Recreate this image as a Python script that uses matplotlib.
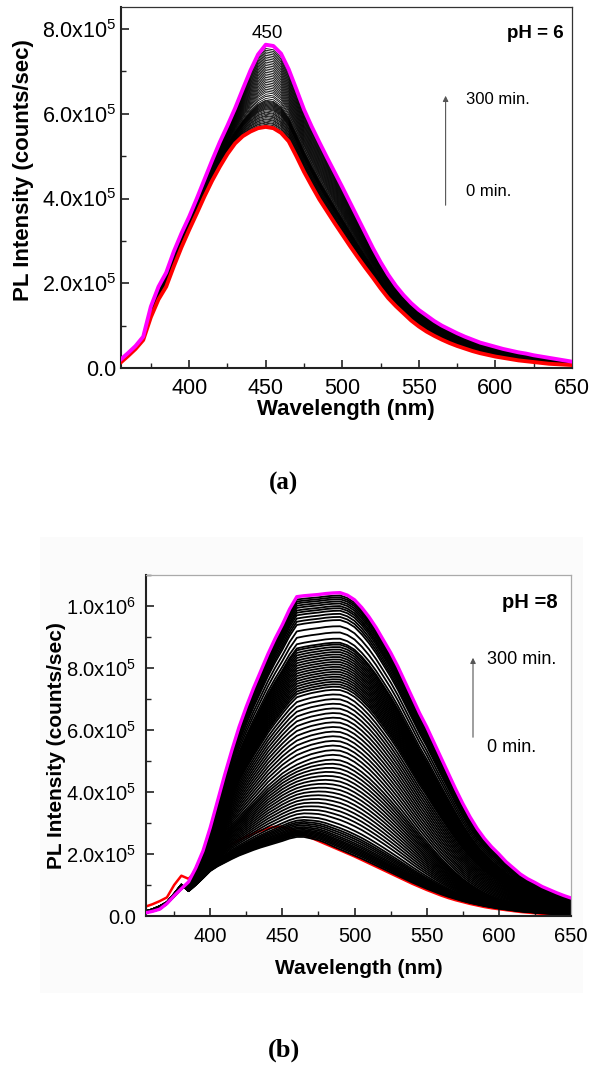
import numpy as np
import matplotlib
matplotlib.use('Agg')
import matplotlib.pyplot as plt
from matplotlib.ticker import MultipleLocator, FuncFormatter
from matplotlib.patches import Rectangle, FancyArrowPatch

plt.rcParams['font.family'] = ['Liberation Sans', 'DejaVu Sans']
plt.rcParams['mathtext.fontset'] = 'custom'
plt.rcParams['mathtext.rm'] = 'Liberation Sans'

# wavelength grid of the spectra (nm)
wl = np.arange(355, 651, 5)

# ---- panel (a), pH = 6, intensities in units of 1e5 counts/sec ----
red_a = [0.12, 0.28, 0.45, 0.66, 1.20, 1.62, 1.92, 2.40, 2.85, 3.26,
         3.65, 4.05, 4.42, 4.75, 5.05, 5.30, 5.47, 5.58, 5.66, 5.69,
         5.66, 5.55, 5.35, 5.00, 4.63, 4.30, 3.98, 3.70, 3.42, 3.15,
         2.88, 2.62, 2.37, 2.13, 1.88, 1.65, 1.46, 1.29, 1.12, 0.98,
         0.86, 0.76, 0.67, 0.59, 0.52, 0.46, 0.40, 0.35, 0.31, 0.27,
         0.24, 0.21, 0.18, 0.16, 0.14, 0.12, 0.10, 0.09, 0.08, 0.07]
magenta_a = [0.19, 0.35, 0.52, 0.74, 1.45, 1.92, 2.25, 2.75, 3.18, 3.57,
             4.00, 4.45, 4.90, 5.33, 5.72, 6.13, 6.58, 7.02, 7.40, 7.63,
             7.60, 7.42, 7.05, 6.58, 6.10, 5.70, 5.33, 4.97, 4.62, 4.27,
             3.91, 3.55, 3.19, 2.83, 2.50, 2.20, 1.94, 1.72, 1.53, 1.37,
             1.24, 1.11, 1.00, 0.91, 0.82, 0.74, 0.67, 0.60, 0.55, 0.50,
             0.45, 0.41, 0.37, 0.34, 0.30, 0.27, 0.24, 0.21, 0.18, 0.15]
# peak heights of the intermediate (black) spectra
peaks_a = [5.72, 5.75, 5.78, 5.80, 5.83, 5.86, 5.88, 5.91, 5.94, 5.96,
           5.99, 6.02, 6.04, 6.07, 6.10, 6.12, 6.14, 6.16, 6.18, 6.20,
           6.22, 6.24, 6.26, 6.28, 6.30, 6.32, 6.36, 6.41, 6.45, 6.50,
           6.54, 6.58, 6.62, 6.66, 6.70, 6.74, 6.78, 6.82, 6.86, 6.90,
           6.94, 6.98, 7.02, 7.06, 7.10, 7.14, 7.18, 7.22, 7.26, 7.30,
           7.34, 7.38, 7.42, 7.46, 7.50, 7.54]

# ---- panel (b), pH = 8 ----
red_b = [0.30, 0.38, 0.48, 0.60, 1.00, 1.30, 1.20, 1.45, 1.65, 1.85,
         2.02, 2.18, 2.32, 2.45, 2.56, 2.66, 2.75, 2.83, 2.88, 2.88,
         2.80, 2.72, 2.62, 2.52, 2.42, 2.32, 2.22, 2.12, 2.02, 1.92,
         1.81, 1.70, 1.59, 1.48, 1.37, 1.26, 1.15, 1.04, 0.94, 0.84,
         0.75, 0.66, 0.58, 0.51, 0.45, 0.39, 0.34, 0.29, 0.25, 0.22,
         0.19, 0.16, 0.13, 0.11, 0.09, 0.07, 0.06, 0.05, 0.04, 0.03]
low_b = [0.15, 0.22, 0.32, 0.45, 0.72, 1.02, 0.80, 1.00, 1.22, 1.45,
         1.60, 1.72, 1.84, 1.95, 2.04, 2.13, 2.21, 2.28, 2.35, 2.42,
         2.50, 2.55, 2.55, 2.50, 2.45, 2.36, 2.25, 2.15, 2.05, 1.95,
         1.85, 1.74, 1.63, 1.52, 1.41, 1.30, 1.19, 1.08, 0.98, 0.88,
         0.79, 0.70, 0.62, 0.55, 0.48, 0.42, 0.37, 0.32, 0.28, 0.24,
         0.21, 0.18, 0.15, 0.13, 0.11, 0.09, 0.08, 0.07, 0.06, 0.05]
mid_b = [0.12, 0.18, 0.27, 0.40, 0.65, 0.90, 0.90, 1.20, 1.55, 1.95,
         2.30, 2.65, 2.95, 3.20, 3.45, 3.70, 3.95, 4.20, 4.40, 4.60,
         4.75, 4.88, 4.98, 5.07, 5.13, 5.18, 5.20, 5.18, 5.10, 4.97,
         4.80, 4.60, 4.37, 4.12, 3.85, 3.57, 3.28, 2.98, 2.68, 2.40,
         2.12, 1.86, 1.62, 1.40, 1.20, 1.03, 0.88, 0.75, 0.64, 0.55,
         0.47, 0.40, 0.34, 0.29, 0.25, 0.21, 0.18, 0.15, 0.13, 0.11]
magenta_b = [0.10, 0.15, 0.22, 0.40, 0.65, 0.88, 1.10, 1.55, 2.10, 2.85,
             3.70, 4.55, 5.35, 6.10, 6.75, 7.35, 7.90, 8.45, 8.95, 9.40,
             9.90, 10.30, 10.33, 10.35, 10.37, 10.40, 10.42, 10.43, 10.35, 10.20,
             9.95, 9.65, 9.30, 8.90, 8.50, 8.05, 7.55, 7.05, 6.55, 6.10,
             5.60, 5.10, 4.60, 4.10, 3.63, 3.20, 2.82, 2.50, 2.23, 2.00,
             1.75, 1.55, 1.35, 1.20, 1.08, 0.95, 0.85, 0.75, 0.66, 0.58]
peaks_b = [2.55, 2.60, 2.64, 2.68, 2.72, 2.76, 2.80, 2.85, 2.90, 2.96,
           3.02, 3.08, 3.15, 3.25, 3.38, 3.50, 3.62, 3.74, 3.86, 3.98,
           4.10, 4.22, 4.34, 4.46, 4.58, 4.70, 4.82, 4.94, 5.06, 5.20,
           5.35, 5.50, 5.65, 5.80, 5.95, 6.10, 6.25, 6.40, 6.55, 6.70,
           6.85, 7.00, 7.15, 7.30, 7.40, 7.48, 7.56, 7.64, 7.72, 7.80,
           7.88, 7.96, 8.04, 8.12, 8.20, 8.28, 8.36, 8.44, 8.52, 8.60,
           8.68, 8.76, 8.82, 8.95, 9.15, 9.35, 9.55, 9.65, 9.75, 9.85,
           9.93, 10.00, 10.08, 10.15, 10.22, 10.28, 10.34]


def between(lo, hi, p):
    lo, hi = np.array(lo), np.array(hi)
    w = (p - lo.max()) / (hi.max() - lo.max())
    return lo + w * (hi - lo)


def sci_fmt(v, pos):
    if v <= 0:
        return '0.0'
    e = int(np.floor(np.log10(v) + 1e-9))
    return '%.1fx10$^{%d}$' % (v / 10 ** e, e)


def style_axes(ax, ymax, frame_color, fs):
    ax.set_xlim(355.5, 650)
    ax.set_ylim(0, ymax)
    ax.xaxis.set_major_locator(MultipleLocator(50))
    ax.xaxis.set_minor_locator(MultipleLocator(25))
    ax.yaxis.set_major_locator(MultipleLocator(2e5))
    ax.yaxis.set_minor_locator(MultipleLocator(1e5))
    ax.yaxis.set_major_formatter(FuncFormatter(sci_fmt))
    ax.tick_params(which='both', direction='in', top=False, right=False,
                   labelsize=fs, color='#222222')
    ax.tick_params(which='major', length=6, width=1.2)
    ax.tick_params(which='minor', length=3.5, width=1.0)
    for s in ['left', 'bottom']:
        ax.spines[s].set_linewidth(1.5)
        ax.spines[s].set_color('#222222')
    for s in ['top', 'right']:
        ax.spines[s].set_linewidth(0.9)
        ax.spines[s].set_color(frame_color)


def fx(px):
    return px / 604.0


def fy(py):
    return 1 - py / 1072.0


def arrow(x, y0, y1):
    fig.patches.append(FancyArrowPatch(
        (fx(x), fy(y0)), (fx(x), fy(y1)), transform=fig.transFigure,
        arrowstyle='-|>', mutation_scale=8, color='#555555', lw=0.8))


fig = plt.figure(figsize=(6.04, 10.72), dpi=100)
fig.patches.append(Rectangle((fx(40), fy(993)), fx(583) - fx(40), fy(537) - fy(993),
                             transform=fig.transFigure, fc='#fbfbfb', ec='none', zorder=-10))

# panel (a)
ax1 = fig.add_axes([fx(121), fy(368), fx(572) - fx(121), fy(7) - fy(368)])
for p in peaks_a:
    ax1.plot(wl, between(red_a, magenta_a, p) * 1e5, color='black', lw=0.6)
ax1.plot(wl, np.array(red_a) * 1e5, color='#ff0000', lw=2.8, zorder=3)
ax1.plot(wl, np.array(magenta_a) * 1e5, color='#ff00ff', lw=2.8, zorder=4)
style_axes(ax1, 8.52e5, '#333333', 15.5)
ax1.tick_params(axis='x', pad=7)
ax1.tick_params(axis='y', pad=3.5)

fig.text(fx(267), fy(33), '450', ha='center', va='center', fontsize=13.5)
fig.text(fx(564), fy(33), 'pH = 6', ha='right', va='center', fontsize=13.5, fontweight='bold')
fig.text(fx(466), fy(99), '300 min.', ha='left', va='center', fontsize=12)
fig.text(fx(466), fy(192), '0 min.', ha='left', va='center', fontsize=12)
arrow(445.6, 208, 93)
fig.text(fx(24), fy(170), 'PL Intensity (counts/sec)', rotation=90, ha='center',
         va='center', fontsize=16, fontweight='bold')
fig.text(fx(346), fy(410), 'Wavelength (nm)', ha='center', va='center',
         fontsize=16, fontweight='bold')
fig.text(fx(284), fy(483), '(a)', ha='center', va='center', fontsize=18,
         fontweight='bold', family='Liberation Serif')

# panel (b)
ax2 = fig.add_axes([fx(146), fy(916), fx(571) - fx(146), fy(575) - fy(916)])
ax2.plot(wl, np.array(red_b) * 1e5, color='#ff0000', lw=1.8, zorder=1)
for p in peaks_b:
    if p <= max(mid_b):
        y = between(low_b, mid_b, p)
    else:
        y = between(mid_b, magenta_b, p)
    ax2.plot(wl, y * 1e5, color='black', lw=1.3, zorder=2)
ax2.plot(wl, np.array(magenta_b) * 1e5, color='#ff00ff', lw=2.4, zorder=4)
style_axes(ax2, 1.1e6, '#aaaaaa', 14.5)
ax2.tick_params(axis='x', pad=8)
ax2.tick_params(axis='y', pad=7)

fig.text(fx(558), fy(603), 'pH =8', ha='right', va='center', fontsize=14.5, fontweight='bold')
fig.text(fx(487), fy(660), '300 min.', ha='left', va='center', fontsize=13)
fig.text(fx(487), fy(748), '0 min.', ha='left', va='center', fontsize=13)
arrow(473, 740, 655)
fig.text(fx(56), fy(746), 'PL Intensity (counts/sec)', rotation=90, ha='center',
         va='center', fontsize=15, fontweight='bold')
fig.text(fx(359), fy(968), 'Wavelength (nm)', ha='center', va='center',
         fontsize=15, fontweight='bold')
fig.text(fx(284), fy(1050), '(b)', ha='center', va='center', fontsize=19,
         fontweight='bold', family='Liberation Serif')

fig.savefig('out.png', dpi=100)
